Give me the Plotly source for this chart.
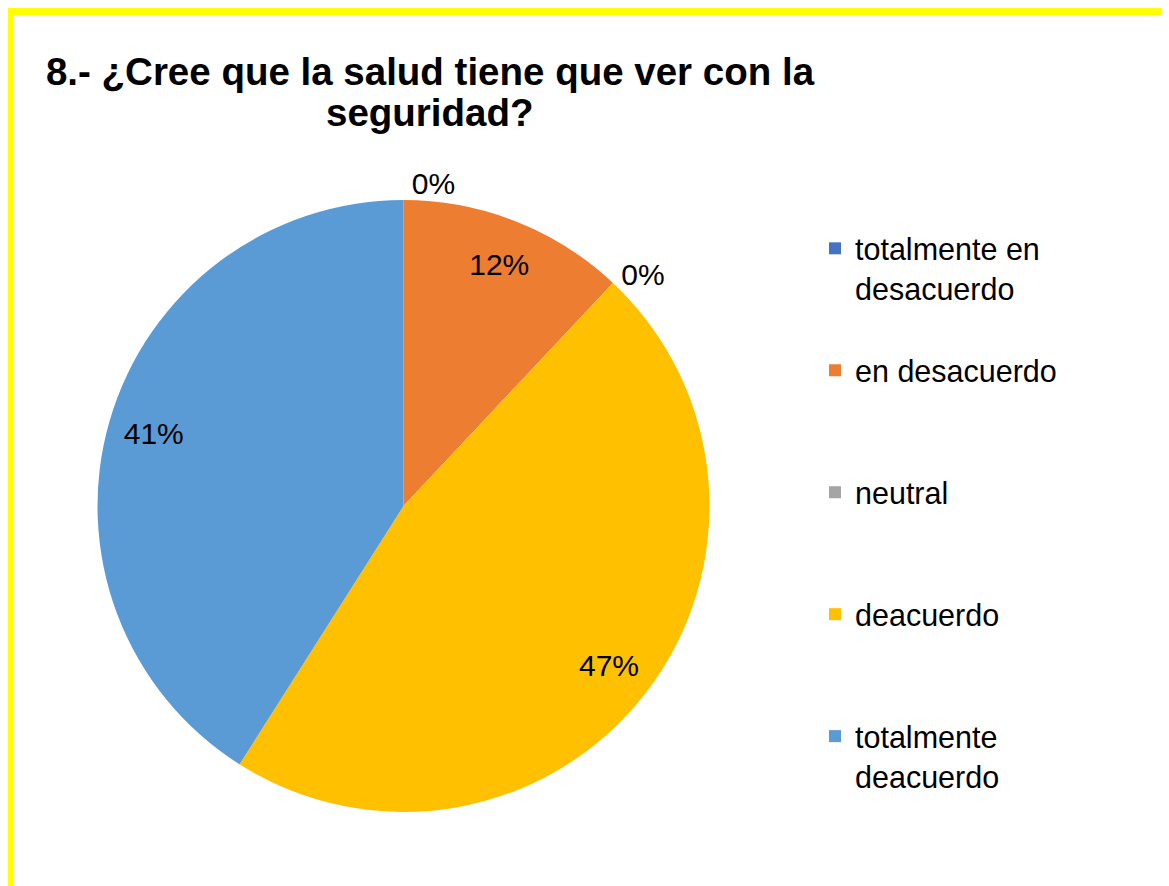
import plotly.graph_objects as go

W, H = 1169, 886
OFF = 8  # page body margin: figure is drawn 8px right and down in the window

categories = ["totalmente en<br>desacuerdo", "en desacuerdo", "neutral", "deacuerdo", "totalmente<br>deacuerdo"]
legend_pad = ["<br> ", "<br> <br> ", "<br> <br> ", "<br> <br> ", "<br> "]
values = [0, 12, 0, 47, 41]
colors = ["#4472C4", "#ED7D31", "#A5A5A5", "#FFC000", "#5B9BD5"]
title_line1 = "8.- ¿Cree que la salud tiene que ver con la"
title_line2 = "seguridad?"

FONT = "Liberation Sans, Arial, sans-serif"


def px(x):
    return (x - OFF) / W


def py(y):
    return 1 - (y - OFF) / H


dom_x = [px(97), px(710)]
dom_y = [py(812), py(200)]

fig = go.Figure()
fig.add_trace(go.Pie(
    labels=[c + p for c, p in zip(categories, legend_pad)],
    values=values,
    sort=False,
    direction="clockwise",
    rotation=0,
    marker=dict(colors=colors, line=dict(width=0)),
    textinfo="none",
    domain=dict(x=dom_x, y=dom_y),
    showlegend=True,
    hoverinfo="label+percent",
))
# transparent ring carrying the data labels near the rim
fig.add_trace(go.Pie(
    labels=categories,
    values=values,
    sort=False,
    direction="clockwise",
    rotation=0,
    hole=0.7,
    marker=dict(colors=["rgba(0,0,0,0)"] * 5, line=dict(width=0)),
    texttemplate="%{percent:.0%}",
    textposition=["outside", "inside", "outside", "inside", "inside"],
    insidetextorientation="horizontal",
    textfont=dict(family=FONT, size=30, color="#000000"),
    domain=dict(x=dom_x, y=dom_y),
    showlegend=False,
    hoverinfo="skip",
))

fig.update_layout(
    width=W, height=H,
    margin=dict(l=0, r=0, t=0, b=0),
    paper_bgcolor="white",
    plot_bgcolor="white",
    font=dict(family=FONT, color="#000000"),
    title=dict(text="<b>" + title_line1 + "</b>", x=px(430), xanchor="center",
               y=py(72), yanchor="middle",
               font=dict(family=FONT, size=38.5, color="#000000")),
    annotations=[dict(text="<b>" + title_line2 + "</b>", xref="paper", yref="paper",
                      x=px(430), y=py(112), xanchor="center", yanchor="middle",
                      showarrow=False,
                      font=dict(family=FONT, size=38.5, color="#000000"))],
    legend=dict(x=px(815), xanchor="left", y=py(222), yanchor="top",
                font=dict(family=FONT, size=30.5, color="#000000"),
                valign="top", traceorder="normal", bgcolor="rgba(0,0,0,0)"),
    shapes=[dict(type="rect", xref="paper", yref="paper",
                 x0=px(9), x1=px(1170), y0=py(11), y1=py(900),
                 line=dict(color="#FFFF00", width=8), fillcolor="rgba(0,0,0,0)",
                 layer="above")],
)

fig.write_html("out.html")
